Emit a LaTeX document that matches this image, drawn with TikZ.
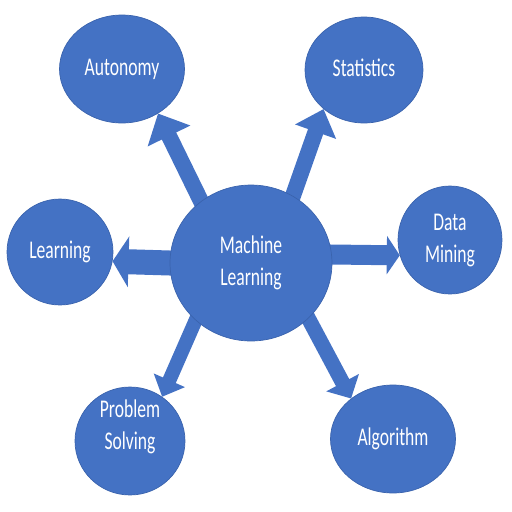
\documentclass[tikz,border=0pt]{standalone}
\usepackage{fontspec}
\setmainfont{Carlito}
\usepackage{graphicx}
\usetikzlibrary{shapes.geometric,arrows.meta,backgrounds}

\definecolor{mlblue}{HTML}{4472C4}
\definecolor{mledge}{HTML}{3A63AD}
\renewcommand{\arraystretch}{1.07}
\newcommand{\bubtext}[1]{\scalebox{1}[1.45]{\begin{tabular}{@{}c@{}}#1\end{tabular}}}
\tikzset{fat/.style n args={3}{draw=mlblue,line width=#1,shorten <=-10pt,
    -{Triangle[length=#2,width=#3]}}}

\begin{document}
\begin{tikzpicture}[x=0.02cm,y=-0.02cm]
            \tikzstyle{bubble}=[ellipse,fill=mlblue,draw=mledge,line width=0.4pt,text=white,inner sep=0pt]
            \useasboundingbox (0,0) rectangle (512,512);
            % hub
            \node[bubble,minimum width=3.24cm,minimum height=3.12cm] (ml) at (251,263) {\bubtext{Machine\\Learning}};
            % topics
            \node[bubble,minimum width=2.5cm,minimum height=2.16cm] (auto) at (122,69) {\bubtext{Autonomy}};
            \node[bubble,minimum width=2.36cm,minimum height=2.12cm] (stat) at (364,70) {\bubtext{Statistics}};
            \node[bubble,minimum width=2.12cm,minimum height=2.12cm] (lrn) at (60,252) {\bubtext{Learning}};
            \node[bubble,minimum width=2.08cm,minimum height=2.16cm] (dm) at (450,240) {\bubtext{Data\\Mining}};
            \node[bubble,minimum width=2.2cm,minimum height=2.16cm] (ps) at (130,441) {\raisebox{0.28cm}[\height][\depth]{\bubtext{Problem\\Solving}}};
            \node[bubble,minimum width=2.5cm,minimum height=2.16cm] (alg) at (393,439) {\bubtext{Algorithm}};
            % arrows
            \begin{pgfonlayer}{background}
            \draw[fat={0.32cm}{0.5cm}{0.92cm}] (ml.129) -- (auto.-51);
            \draw[fat={0.32cm}{0.48cm}{0.84cm}] (ml.58) -- (stat.224);
            \draw[fat={0.5cm}{0.32cm}{1.0cm}] (ml.180) -- (lrn.-10);
            \draw[fat={0.4cm}{0.26cm}{0.76cm}] (ml.6) -- (dm.197);
            \draw[fat={0.28cm}{0.36cm}{0.66cm}] (ml.226) -- (ps.54);
            \draw[fat={0.3cm}{0.36cm}{0.72cm}] (ml.-44) -- (alg.136);
            \end{pgfonlayer}
        \end{tikzpicture}
\end{document}
